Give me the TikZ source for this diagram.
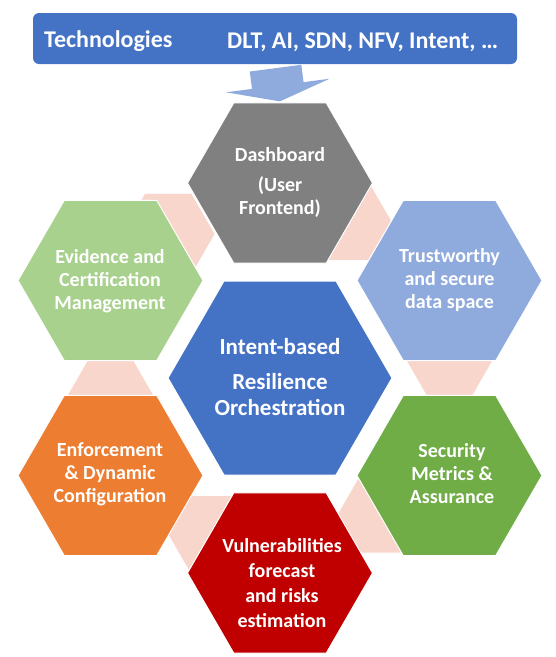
\documentclass[tikz,border=0pt]{standalone}
\usepackage{fontspec}
\setmainfont{Carlito}
\usetikzlibrary{shapes.geometric,arrows.meta,calc}

\definecolor{techblue}{HTML}{4472C4}
\definecolor{paleblue}{HTML}{8FAADC}
\definecolor{dashgrey}{HTML}{808080}
\definecolor{evidgreen}{HTML}{A9D18E}
\definecolor{secgreen}{HTML}{70AD47}
\definecolor{enforange}{HTML}{ED7D31}
\definecolor{vulnred}{HTML}{C00000}
\definecolor{linkpink}{HTML}{F8D6CC}

\tikzset{
  hexcore/.style={regular polygon, regular polygon sides=6, minimum size=224pt,
    inner sep=0pt, draw=white, line width=1pt},
  hexouter/.style={regular polygon, regular polygon sides=6, minimum size=185pt,
    inner sep=0pt, draw=white, line width=1pt},
  hexlink/.style={regular polygon, regular polygon sides=6, minimum size=88pt,
    inner sep=0pt, fill=linkpink, draw=white, line width=0.8pt},
  hextext/.style={text=white, font=\bfseries\fontsize{20}{23}\selectfont,
    align=center, inner sep=0pt},
  techtext/.style={text=white, font=\bfseries\fontsize{24}{28}\selectfont,
    inner sep=0pt, anchor=base west},
}

\begin{document}
\begin{tikzpicture}[x=1pt,y=-1pt]
\useasboundingbox (0,0) rectangle (556,657);
%
	\coordinate (dashc)  at (280,183);
	\coordinate (trustc) at (449.5,280.5);
	\coordinate (secc)   at (449.5,475.5);
	\coordinate (vulnc)  at (280,573);
	\coordinate (enfc)   at (110.5,475.5);
	\coordinate (evidc)  at (110.5,280.5);
%
	% pale links between the outer hexagons
	\node[hexlink] (link1) at ($(dashc)!0.405!(trustc)$) {};
	\node[hexlink] (link2) at ($(trustc)!0.405!(secc)$) {};
	\node[hexlink] (link3) at ($(secc)!0.405!(vulnc)$) {};
	\node[hexlink] (link4) at ($(vulnc)!0.405!(enfc)$) {};
	\node[hexlink] (link5) at ($(enfc)!0.405!(evidc)$) {};
	\node[hexlink, minimum size=94pt] (link6) at ($(evidc)!0.405!(dashc)+(-11,-7)$) {};
%
	\node[hexouter, fill=dashgrey]  (dash)  at (dashc)  {};
	\node[hexouter, fill=paleblue]  (trust) at (trustc) {};
	\node[hexouter, fill=secgreen]  (sec)   at (secc)   {};
	\node[hexouter, fill=vulnred]   (vuln)  at (vulnc)  {};
	\node[hexouter, fill=enforange] (enf)   at (enfc)   {};
	\node[hexouter, fill=evidgreen] (evid)  at (evidc)  {};
	\node[hexcore, fill=techblue]   (core)  at (280,378) {};
%
	\node[hextext] (dashlabel)  at (280,182) {Dashboard\\[7pt](User\\Frontend)};
	\node[hextext] (trustlabel) at (449.5,280.5) {Trustworthy\\and secure\\data space};
	\node[hextext] (seclabel)   at (452,474) {Security\\Metrics \&\\Assurance};
	\node[hextext, font=\bfseries\fontsize{20}{25}\selectfont] (vulnlabel) at (282,583)
		{Vulnerabilities\\forecast\\and risks\\estimation};
	\node[hextext] (enflabel)   at (110,474) {Enforcement\\\& Dynamic\\Configuration};
	\node[hextext] (evidlabel)  at (110,281) {Evidence and\\Certification\\Management};
	\node[hextext, font=\bfseries\fontsize{23}{26}\selectfont] (corelabel) at (280,377)
		{Intent-based\\[9pt]Resilience\\Orchestration};
%
	% technologies banner and its arrow
	\node[fill=techblue, rounded corners=6pt, minimum width=484pt, minimum height=51pt,
		inner sep=0pt] (tech) at (275,38.5) {};
	\node[techtext] (techname) at (44,47.5) {Technologies};
	\node[techtext] (techlist) at (227,48) {DLT, AI, SDN, NFV, Intent, …};
	\draw[paleblue, line width=52pt, shorten <=4pt, shorten >=1pt,
		-{Triangle[width=104pt,length=16pt]}] (tech.south) -- (dash.north);
\end{tikzpicture}
\end{document}
